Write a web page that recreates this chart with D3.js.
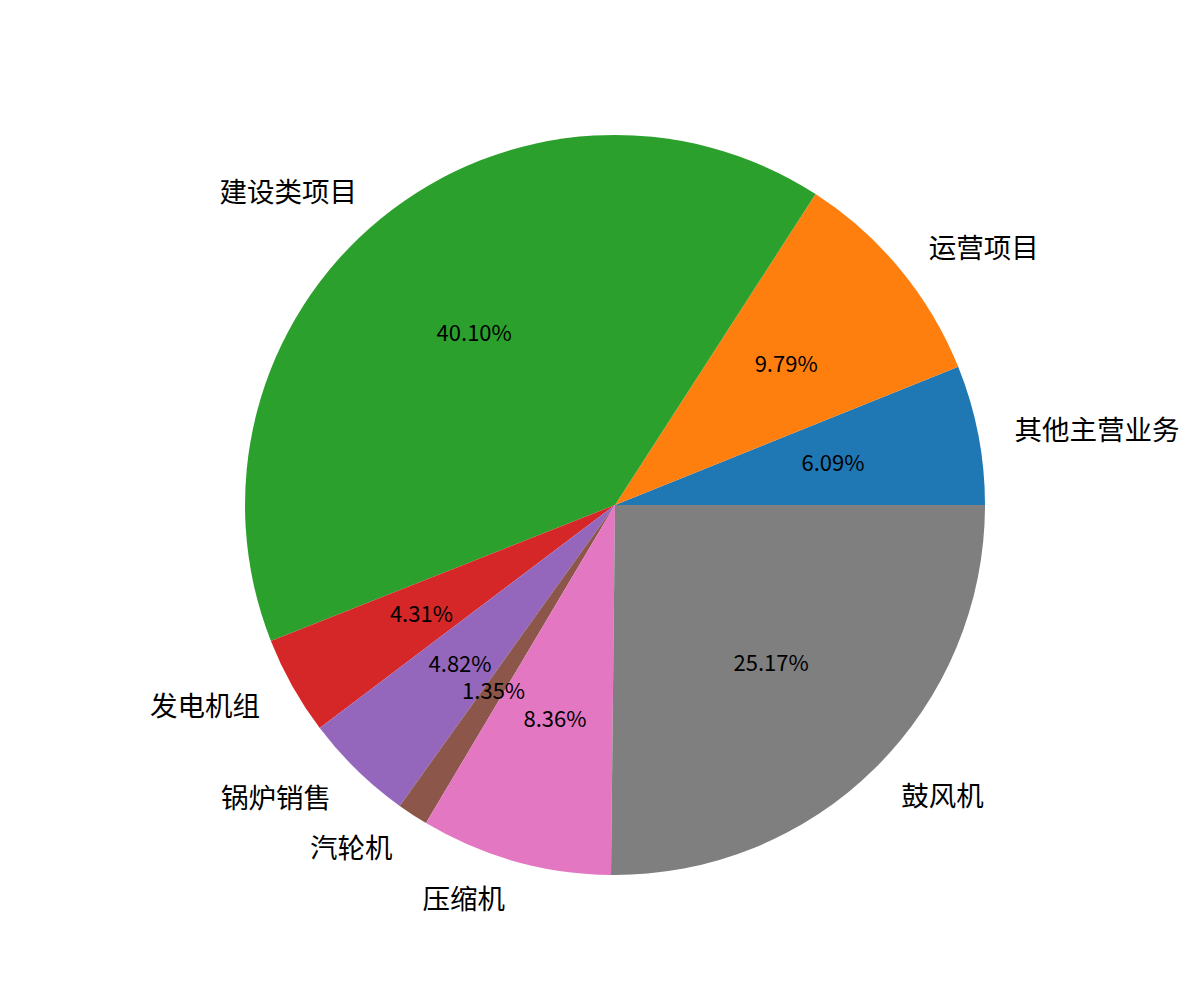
<!DOCTYPE html>
<html><head><meta charset="utf-8">
<script src="https://cdn.jsdelivr.net/npm/d3@7"></script>
<style>body{margin:0;background:#fff}svg{display:block}</style>
</head><body>
<script>
const categories = ["其他主营业务","运营项目","建设类项目","发电机组","锅炉销售","汽轮机","压缩机","鼓风机"];
const values = [6.09, 9.79, 40.10, 4.31, 4.82, 1.35, 8.36, 25.17];
const colors = ["#1f77b4","#ff7f0e","#2ca02c","#d62728","#9467bd","#8c564b","#e377c2","#7f7f7f"];

const W = 1200, H = 1000, cx = 615, cy = 505, R = 370;
const svg = d3.select("body").append("svg").attr("width", W).attr("height", H);
const g = svg.append("g").attr("transform", `translate(${cx},${cy})`);

const data = categories.map((c, i) => ({name: c, value: values[i], color: colors[i]}));
const pie = d3.pie().value(d => d.value).sort(null)
  .startAngle(Math.PI/2).endAngle(Math.PI/2 - 2*Math.PI);
const arcs = pie(data);
const arc = d3.arc().innerRadius(0).outerRadius(R);

g.selectAll("path.slice").data(arcs).join("path")
  .attr("class","slice")
  .attr("d", arc)
  .attr("fill", d => d.data.color);

const total = d3.sum(values);
function pos(d, f){
  const a = (d.startAngle + d.endAngle)/2;
  return [f*R*Math.sin(a), -f*R*Math.cos(a)];
}
g.selectAll("text.lab").data(arcs).join("text")
  .attr("class","lab")
  .attr("x", d => pos(d,1.1)[0])
  .attr("y", d => pos(d,1.1)[1])
  .attr("text-anchor", d => pos(d,1.1)[0] >= 0 ? "start" : "end")
  .attr("dominant-baseline","central")
  .style("font-family","'Noto Sans CJK SC'")
  .style("font-size","27.5px")
  .attr("fill","#000")
  .text(d => d.data.name);

g.selectAll("text.pct").data(arcs).join("text")
  .attr("class","pct")
  .attr("x", d => pos(d,0.6)[0])
  .attr("y", d => pos(d,0.6)[1] - 2)
  .attr("text-anchor","middle")
  .attr("dominant-baseline","central")
  .style("font-family","'Noto Sans CJK SC'")
  .style("font-size","22px")
  .attr("fill","#000")
  .text(d => (d.data.value/total*100).toFixed(2) + "%");
</script>
</body></html>
